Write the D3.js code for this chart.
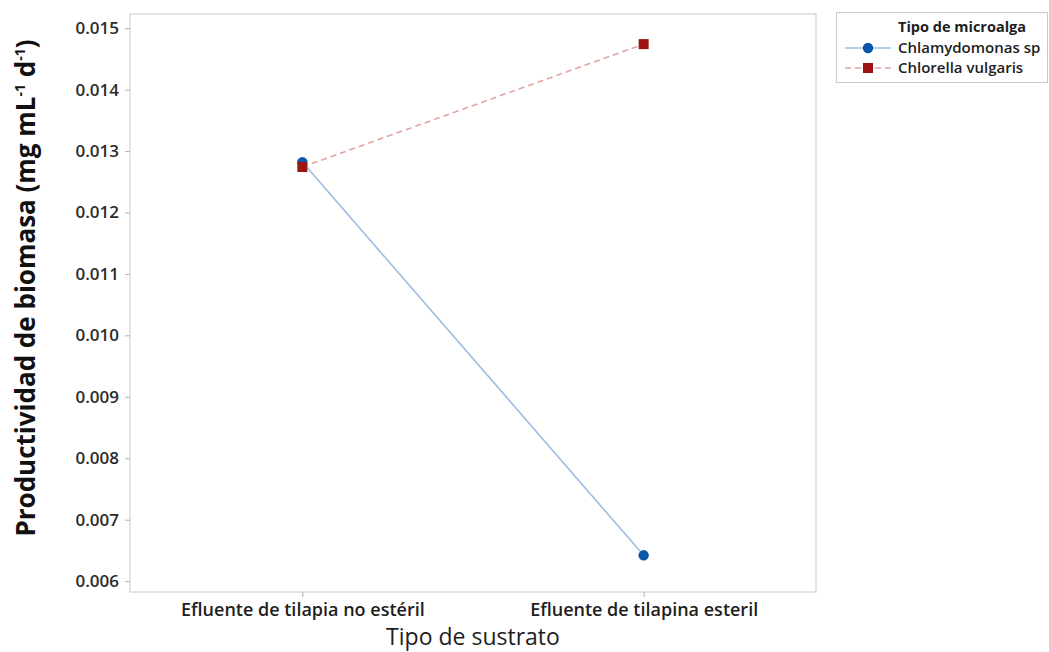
<!DOCTYPE html>
<html>
<head>
<meta charset="utf-8">
<script src="https://cdn.jsdelivr.net/npm/d3@7"></script>
<style>
  html, body { margin: 0; padding: 0; background: #fff; }
  svg { display: block; font-family: "Open Sans", "Noto Sans", sans-serif; }
</style>
</head>
<body>
<svg id="chart" width="1049" height="652"></svg>
<script>
// Substrate categories on the x axis
const substrates = ["Efluente de tilapia no estéril", "Efluente de tilapina esteril"];
// Mean biomass productivity (mg mL-1 d-1) per microalga
const chlamydomonas = [0.01282, 0.00642];
const chlorella = [0.01274, 0.01474];
const seriesNames = ["Chlamydomonas sp", "Chlorella vulgaris"];
const yTicks = [0.006, 0.007, 0.008, 0.009, 0.010, 0.011, 0.012, 0.013, 0.014, 0.015];

const svg = d3.select("#chart");
const frame = { left: 130, right: 816, top: 14, bottom: 592 };

const x = d3.scalePoint().domain(substrates).range([frame.left, frame.right]).padding(0.505);
const y = d3.scaleLinear().domain([0.005823, 0.01523]).range([frame.bottom, frame.top]);

// plot frame
svg.append("rect")
  .attr("x", frame.left).attr("y", frame.top)
  .attr("width", frame.right - frame.left).attr("height", frame.bottom - frame.top)
  .attr("fill", "none").attr("stroke", "#c9c9c9").attr("stroke-width", 1);

// y axis
const yAxis = svg.append("g")
  .attr("transform", `translate(${frame.left},0)`)
  .call(d3.axisLeft(y).tickValues(yTicks).tickFormat(d3.format(".3f")).tickSize(5).tickPadding(6));
yAxis.select(".domain").remove();
yAxis.selectAll(".tick line").attr("stroke", "#b0b0b0");
yAxis.selectAll(".tick text")
  .attr("fill", "#2b2b2b").style("font-size", "17px").style("font-weight", "600")
  .style("font-family", "'Open Sans', sans-serif");

// x axis
const xAxis = svg.append("g")
  .attr("transform", `translate(0,${frame.bottom})`)
  .call(d3.axisBottom(x).tickSize(5).tickPadding(6));
xAxis.select(".domain").remove();
xAxis.selectAll(".tick line").attr("stroke", "#b0b0b0");
xAxis.selectAll(".tick text")
  .attr("fill", "#1e1e1e").style("font-size", "18px").style("font-weight", "600")
  .style("font-family", "'Open Sans', sans-serif");

// axis titles
svg.append("text")
  .attr("x", 473).attr("y", 645)
  .attr("text-anchor", "middle")
  .attr("fill", "#1e1e1e").style("font-size", "23px").style("font-weight", "500")
  .text("Tipo de sustrato");

const yTitle = svg.append("text")
  .attr("transform", "translate(35,288) rotate(-90)")
  .attr("text-anchor", "middle")
  .attr("fill", "#111").style("font-size", "26px").style("font-weight", "700");
yTitle.append("tspan").text("Productividad de biomasa (mg mL");
yTitle.append("tspan").attr("dy", -10).style("font-size", "14px").text("-1");
yTitle.append("tspan").attr("dy", 10).text(" d");
yTitle.append("tspan").attr("dy", -10).style("font-size", "14px").text("-1");
yTitle.append("tspan").attr("dy", 10).text(")");

const series = [
  { name: seriesNames[0], values: chlamydomonas, line: "#9dbde3", dash: null, marker: "#0a56a8", shape: "circle" },
  { name: seriesNames[1], values: chlorella, line: "#e2a3a3", dash: "6,4", marker: "#9c1414", shape: "square" }
];

const line = d3.line().x((d, i) => x(substrates[i])).y(d => y(d));

series.forEach(s => {
  svg.append("path")
    .datum(s.values)
    .attr("d", line)
    .attr("fill", "none")
    .attr("stroke", s.line)
    .attr("stroke-width", 1.6)
    .attr("stroke-dasharray", s.dash);
});

function drawMarker(g, s, cx, cy) {
  if (s.shape === "circle") {
    g.append("circle").attr("cx", cx).attr("cy", cy).attr("r", 5.2).attr("fill", s.marker);
  } else {
    g.append("rect").attr("x", cx - 5).attr("y", cy - 5).attr("width", 10).attr("height", 10).attr("fill", s.marker);
  }
}

series.forEach(s => {
  const g = svg.append("g");
  s.values.forEach((v, i) => drawMarker(g, s, x(substrates[i]), y(v)));
});

// legend
const legend = svg.append("g");
legend.append("rect")
  .attr("x", 836.5).attr("y", 12.5).attr("width", 211).attr("height", 70)
  .attr("fill", "#fff").attr("stroke", "#c9c9c9");
legend.append("text")
  .attr("x", 898).attr("y", 32)
  .attr("fill", "#1e1e1e").style("font-size", "14.5px").style("font-weight", "700")
  .text("Tipo de microalga");
series.forEach((s, i) => {
  const ly = 48 + i * 20;
  legend.append("line")
    .attr("x1", 845).attr("x2", 891).attr("y1", ly).attr("y2", ly)
    .attr("stroke", s.line).attr("stroke-width", 1.6).attr("stroke-dasharray", s.dash);
  drawMarker(legend, s, 868, ly);
  legend.append("text")
    .attr("x", 898).attr("y", ly + 5)
    .attr("fill", "#1e1e1e").style("font-size", "15px").style("font-weight", "600")
    .text(s.name);
});
</script>
</body>
</html>
